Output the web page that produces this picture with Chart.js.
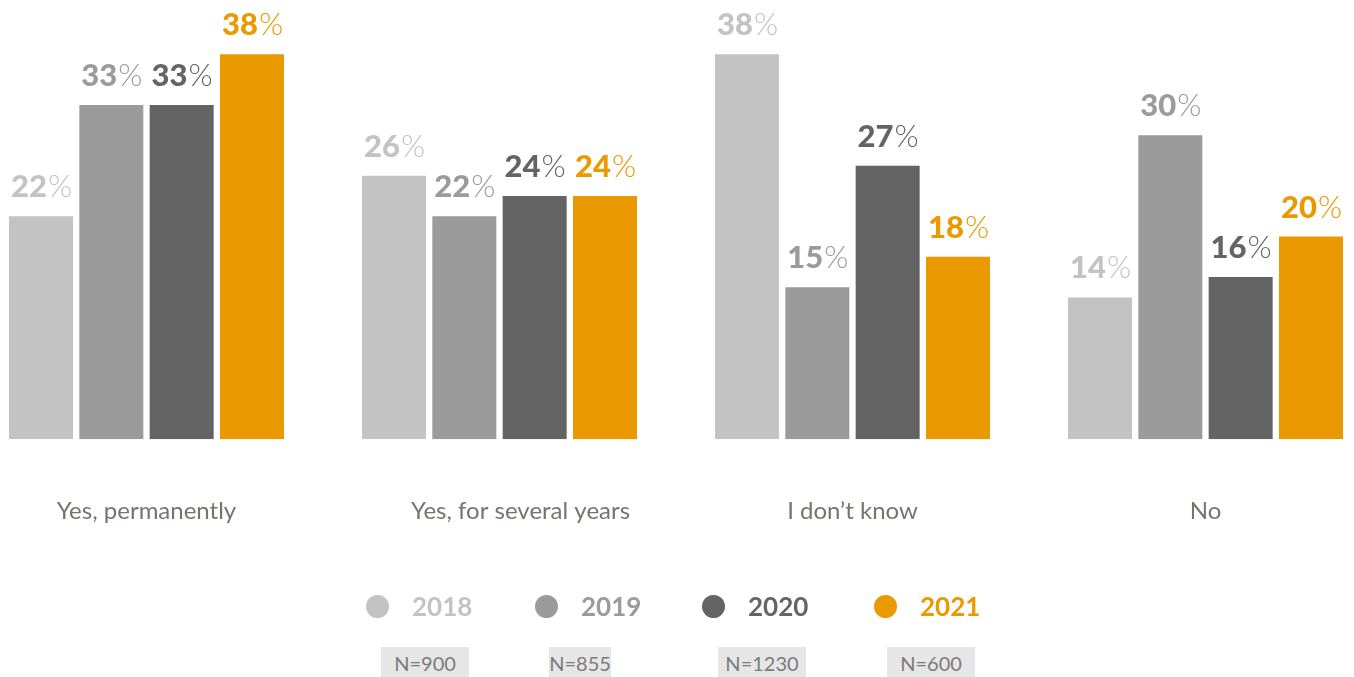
<!DOCTYPE html>
<html>
<head>
<meta charset="utf-8">
<script src="https://cdn.jsdelivr.net/npm/chart.js@4"></script>
<style>
  html, body { margin: 0; padding: 0; background: #fff; overflow: hidden; }
  body { width: 1354px; height: 677px; position: relative; font-family: Lato, sans-serif; }
  #wrap { position: absolute; left: -30px; top: 0; width: 1412px; height: 592px; }
  .legend-item { position: absolute; top: 593px; height: 26px; display: flex; align-items: center; }
  .legend-dot { width: 23px; height: 23px; border-radius: 50%; margin-right: 23px; }
  .legend-text { font-weight: 700; font-size: 26px; line-height: 26px; }
  .n-box { position: absolute; top: 647px; height: 30px; background: #e6e6e6; color: #7b7b7b;
           font-size: 20px; line-height: 32px; text-align: center; }
</style>
</head>
<body>
<div id="wrap"><canvas id="chart"></canvas></div>
<div id="legend"></div>
<script>
// the second label carries leading spaces, as in the source sheet
const CATEGORIES = ['Yes, permanently', '\u00a0\u00a0\u00a0\u00a0\u00a0\u00a0\u00a0Yes, for several years', 'I don\u2019t know', 'No'];
const YEARS = ['2018', '2019', '2020', '2021'];
const SAMPLE_SIZES = ['N=900', 'N=855', 'N=1230', 'N=600'];
const COLORS = ['#c3c3c3', '#9b9b9b', '#646464', '#ea9900'];

const VALUES_2018 = [22, 26, 38, 14];
const VALUES_2019 = [33, 22, 15, 30];
const VALUES_2020 = [33, 24, 27, 16];
const VALUES_2021 = [38, 24, 18, 20];
const SERIES = [VALUES_2018, VALUES_2019, VALUES_2020, VALUES_2021];

// value labels: heavy number followed by a light "%"
const valueLabels = {
  id: 'valueLabels',
  afterDatasetsDraw(chart) {
    const ctx = chart.ctx;
    ctx.save();
    ctx.textBaseline = 'alphabetic';
    ctx.textAlign = 'left';
    chart.data.datasets.forEach((ds, i) => {
      const meta = chart.getDatasetMeta(i);
      meta.data.forEach((bar, j) => {
        const num = String(ds.data[j]);
        ctx.font = '900 31px Lato';
        const wNum = ctx.measureText(num).width;
        ctx.font = '300 31px Lato';
        const wPct = ctx.measureText('%').width;
        const x0 = bar.x - (wNum + wPct) / 2;
        const y = bar.y - 19;
        ctx.fillStyle = COLORS[i];
        ctx.font = '900 31px Lato';
        ctx.fillText(num, x0, y);
        ctx.font = '300 31px Lato';
        ctx.fillText('%', x0 + wNum + 1, y);
      });
    });
    ctx.restore();
  }
};

new Chart(document.getElementById('chart'), {
  type: 'bar',
  data: {
    labels: CATEGORIES,
    datasets: YEARS.map((y, i) => ({
      label: y,
      data: SERIES[i],
      backgroundColor: COLORS[i],
      borderWidth: 0,
      categoryPercentage: 0.797,
      barPercentage: 0.91
    }))
  },
  options: {
    responsive: true,
    maintainAspectRatio: false,
    animation: false,
    layout: { padding: { top: 34, bottom: 16, left: 0, right: 0 } },
    scales: {
      x: {
        grid: { display: false },
        border: { display: false },
        ticks: { color: '#77736f', font: { family: 'Lato', size: 24 }, padding: 50 }
      },
      y: { display: false, min: 0, max: 40 }
    },
    plugins: { legend: { display: false }, tooltip: { enabled: false } }
  },
  plugins: [valueLabels]
});

// legend row with sample sizes underneath
const LEGEND_X = [366, 535, 702, 874];
const BOX_X = [381, 549, 718, 887];
const BOX_W = [88, 62, 88, 88];
const legend = document.getElementById('legend');
YEARS.forEach((y, i) => {
  legend.innerHTML += `
    <div class="legend-item" style="left:${LEGEND_X[i]}px">
      <div class="legend-dot" style="background:${COLORS[i]}"></div>
      <div class="legend-text" style="color:${COLORS[i]}">${y}</div>
    </div>
    <div class="n-box" style="left:${BOX_X[i]}px;width:${BOX_W[i]}px">${SAMPLE_SIZES[i]}</div>`;
});
</script>
</body>
</html>
